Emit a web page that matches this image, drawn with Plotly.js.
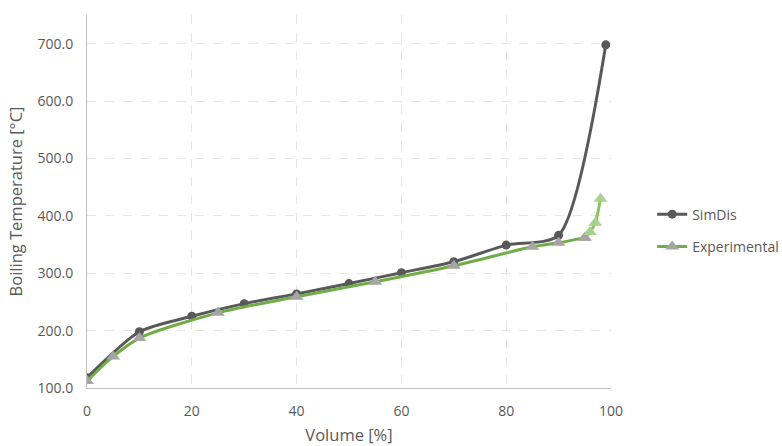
<!DOCTYPE html>
<html>
<head>
<meta charset="utf-8">
<script src="https://cdn.plot.ly/plotly-3.0.1.min.js"></script>
<style>html,body{margin:0;padding:0;background:#fff;}#chart{width:782px;height:446px;}</style>
</head>
<body>
<div id="chart"></div>
<script>
// Data
const simdisVolume = [0, 10, 20, 30, 40, 50, 60, 70, 80, 90, 99];
const simdisTemp   = [118, 198, 225, 247, 264, 282, 301, 320, 349, 366, 698];

const expVolume = [0, 5, 10, 25, 40, 55, 70, 85, 90, 95];
const expTemp   = [112, 155, 187, 231, 259, 285, 313, 346, 353, 362];

// Final (lighter) portion of experimental curve
const expTailVolume = [95, 96, 97, 98];
const expTailTemp   = [362, 372, 388, 430];

const yTickFormat = '.1f';

const font = 'Open Sans, Liberation Sans, sans-serif';

const traces = [
  {
    x: simdisVolume, y: simdisTemp, name: 'SimDis', mode: 'lines+markers',
    legendgroup: 'a',
    line: {color: '#595959', width: 3, shape: 'spline', smoothing: 0.7},
    marker: {symbol: 'circle', size: 9, color: '#595959'}
  },
  {
    x: expVolume, y: expTemp, name: 'Experimental', mode: 'lines+markers',
    legendgroup: 'b',
    line: {color: '#70ad47', width: 3, shape: 'spline', smoothing: 0.8},
    marker: {symbol: 'triangle-up', size: 12, color: '#a5a5a5'}
  },
  {
    x: expTailVolume, y: expTailTemp, mode: 'lines+markers', showlegend: false,
    legendgroup: 'b',
    line: {color: '#8cc463', width: 3, shape: 'spline', smoothing: 0.8},
    marker: {symbol: 'triangle-up', size: 12, color: ['#a5a5a5', '#a9d18e', '#a9d18e', '#a9d18e']}
  }
];

const layout = {
  width: 782, height: 446,
  margin: {l: 87, r: 171, t: 15, b: 58, autoexpand: false},
  paper_bgcolor: '#fff', plot_bgcolor: '#fff',
  font: {family: font, size: 14, color: '#595959'},
  showlegend: true,
  legend: {
    xref: 'container', yref: 'container',
    x: 0.834, y: 0.483, xanchor: 'left', yanchor: 'middle',
    traceorder: 'grouped', tracegroupgap: 11,
    font: {family: font, size: 14, color: '#595959'},
    bgcolor: 'rgba(0,0,0,0)'
  },
  xaxis: {
    range: [0, 100], dtick: 20, tick0: 0,
    showgrid: true, gridcolor: '#e6e6e6', griddash: 'dash', gridwidth: 1,
    showline: true, linecolor: '#bfbfbf', linewidth: 1,
    zeroline: false, ticks: '', ticklabelstandoff: 10,
    tickfont: {family: font, size: 14, color: '#595959'},
    title: {text: 'Volume [%]', font: {family: font, size: 16.5, color: '#595959'}, standoff: 11}
  },
  yaxis: {
    range: [100, 750], dtick: 100, tick0: 100, tickformat: yTickFormat,
    showgrid: true, gridcolor: '#e6e6e6', griddash: 'dash', gridwidth: 1,
    showline: true, linecolor: '#bfbfbf', linewidth: 1,
    zeroline: false, ticks: '', ticklabelstandoff: 10,
    tickfont: {family: font, size: 14, color: '#595959'},
    title: {text: 'Boiling Temperature [°C]', font: {family: font, size: 16.5, color: '#595959'}, standoff: 10}
  }
};

Plotly.newPlot('chart', traces, layout, {displayModeBar: false, staticPlot: true});
</script>
</body>
</html>
